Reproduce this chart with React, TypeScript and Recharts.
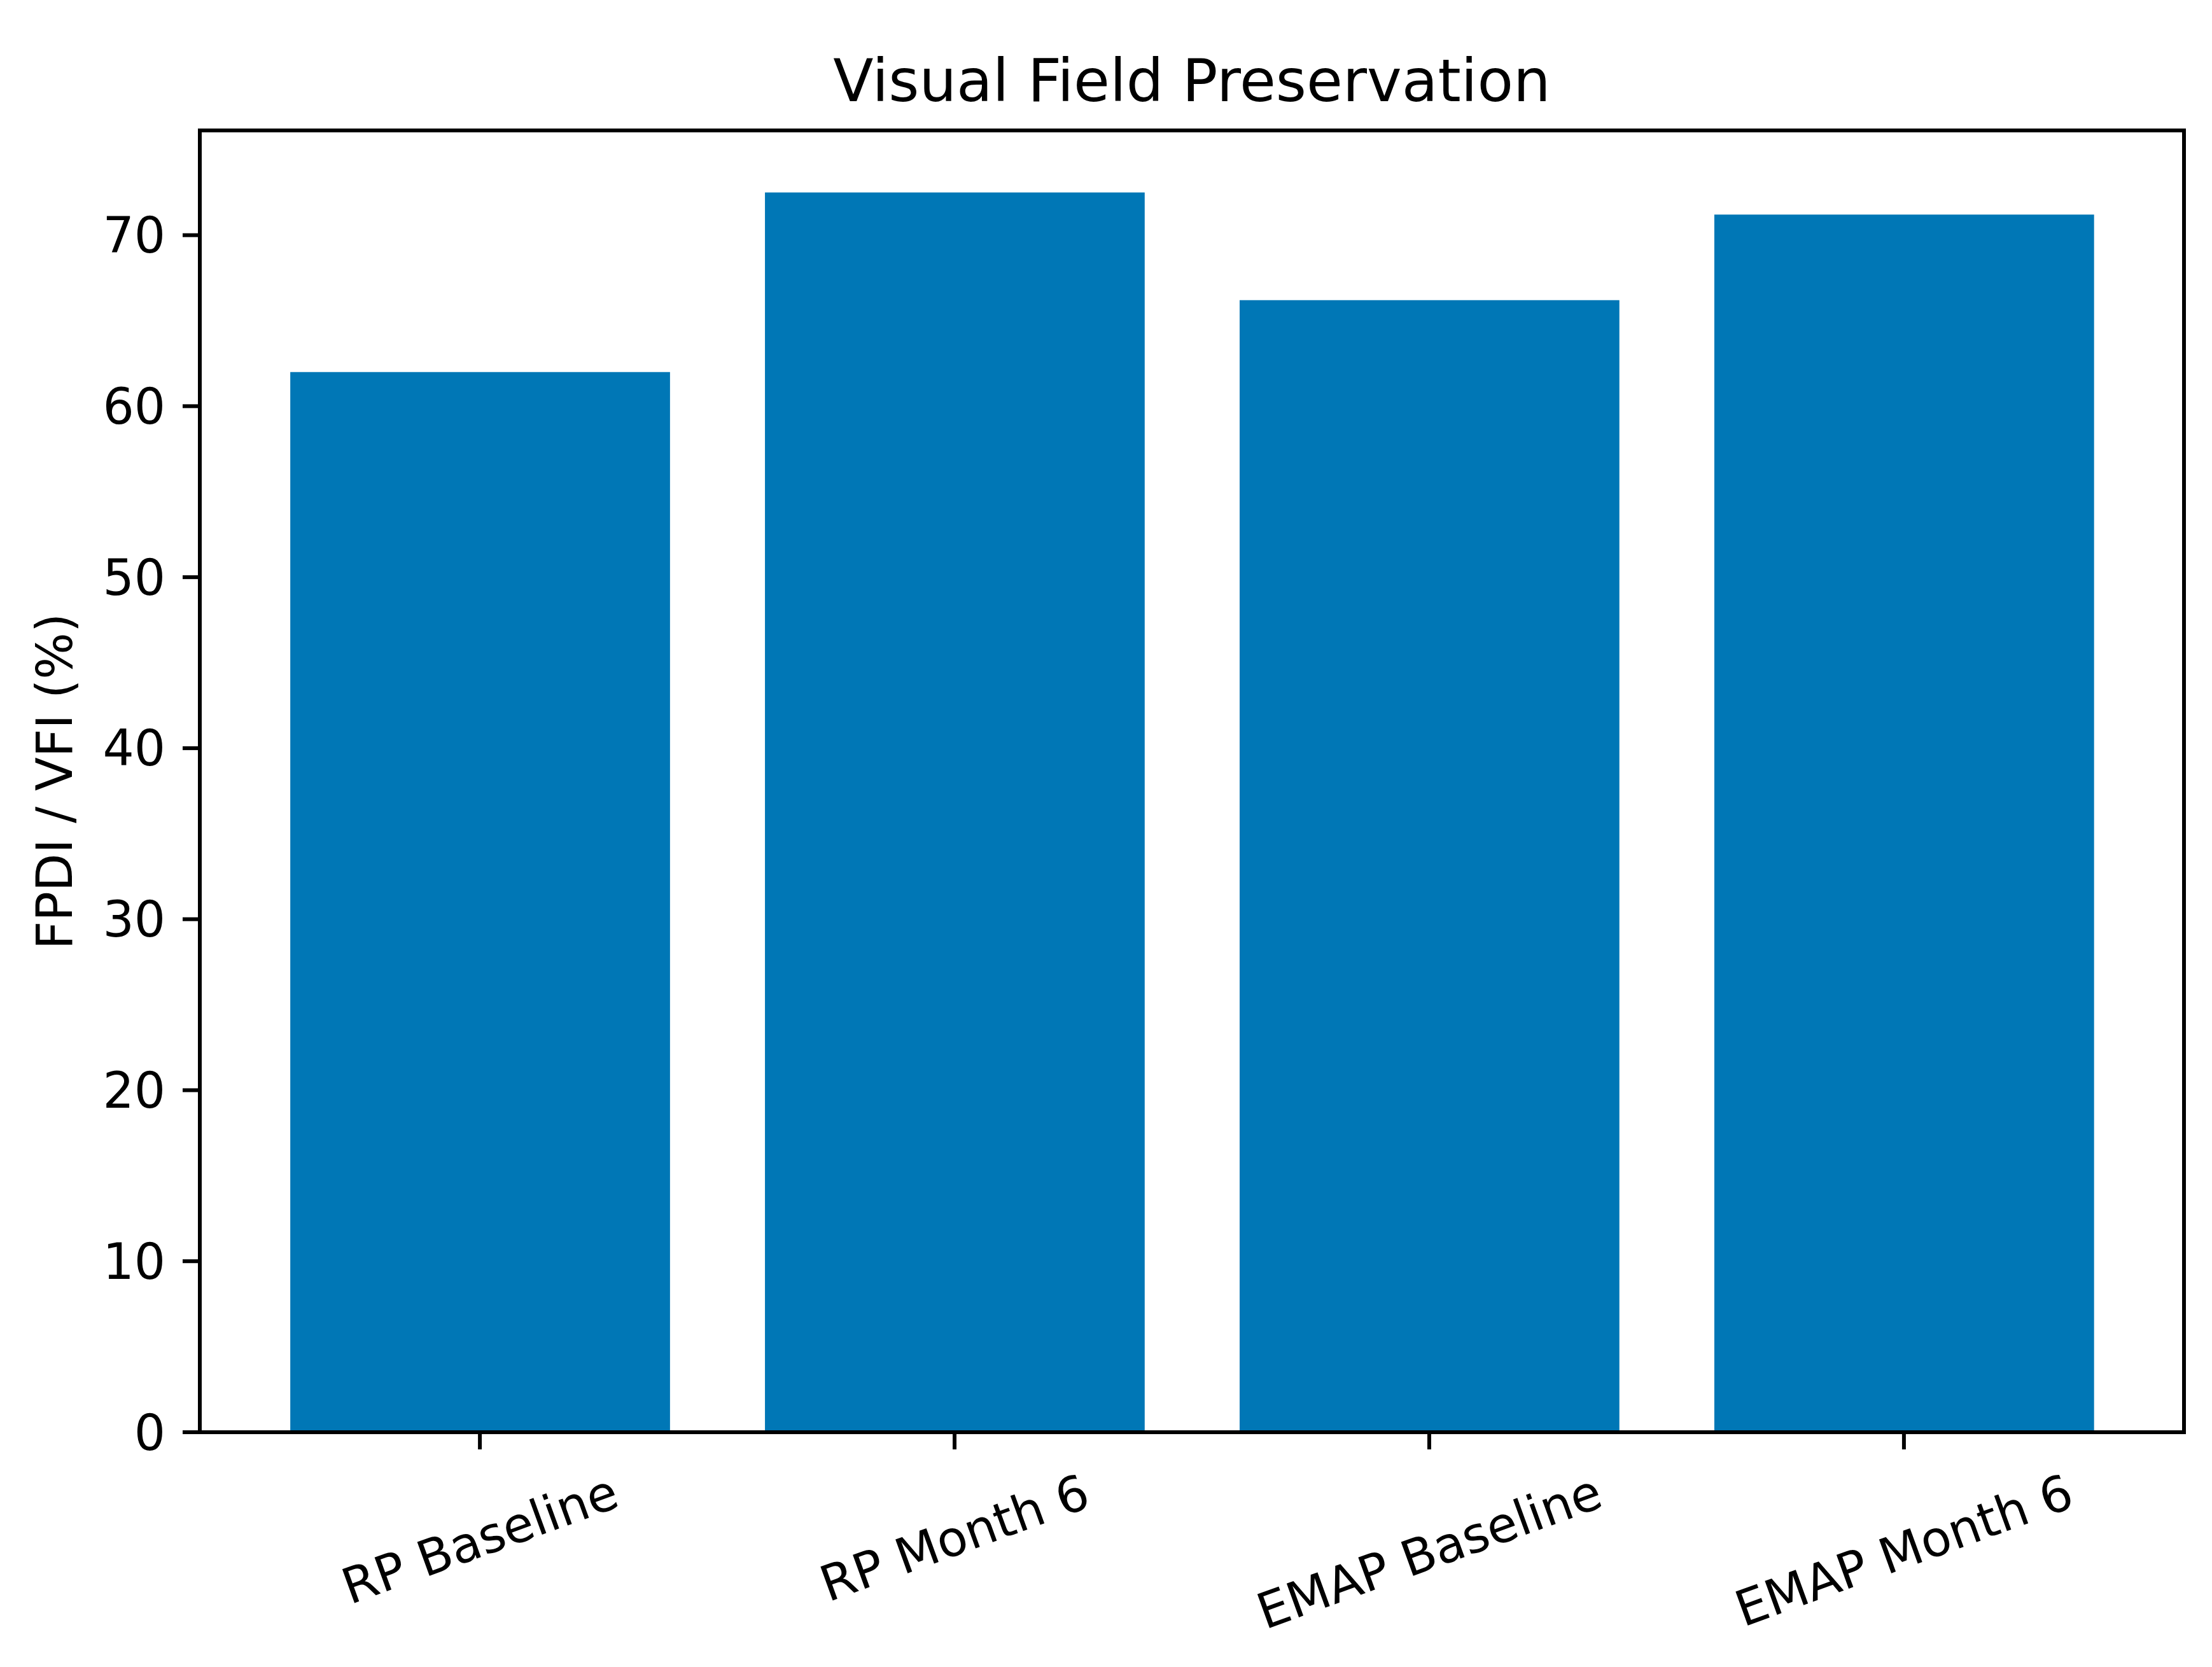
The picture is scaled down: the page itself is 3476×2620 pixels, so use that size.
import React from 'react';
import { BarChart, Bar, XAxis, YAxis } from 'recharts';

const categories = ['RP Baseline', 'RP Month 6', 'EMAP Baseline', 'EMAP Month 6'];
const values = [62.0, 72.5, 66.2, 71.2];
const yTicks = [0, 10, 20, 30, 40, 50, 60, 70];
const title = 'Visual Field Preservation';
const yLabel = 'FPDI / VFI (%)';

const data = categories.map((name, i) => ({ name, value: values[i] }));

const W = 3476;
const H = 2620;
const PLOT_LEFT = 314;
const PLOT_RIGHT = 3432;
const PLOT_TOP = 205;
const PLOT_BOTTOM = 2251;
const FONT = '"DejaVu Sans", sans-serif';
const TICK_FS = 77.5;
const TITLE_FS = 92.5;
const ANGLE = 20;
const BAR_COLOR = '#0077b6';
const LW = 6;

let ctx: CanvasRenderingContext2D | null = null;
function measure(text: string, size: number): number {
  if (!ctx) {
    const c = document.createElement('canvas');
    ctx = c.getContext('2d');
  }
  if (!ctx) return text.length * size * 0.6;
  ctx.font = `${size}px "DejaVu Sans"`;
  return ctx.measureText(text).width;
}

const RotTick = (props: any) => {
  const { x, y, payload } = props;
  const label = String(payload.value);
  const w = measure(label, TICK_FS);
  const h = TICK_FS * 1.0;
  const rad = (ANGLE * Math.PI) / 180;
  const bh = w * Math.sin(rad) + h * Math.cos(rad);
  const cy = y + bh / 2;
  return (
    <text
      x={x}
      y={cy}
      textAnchor="middle"
      dominantBaseline="central"
      transform={`rotate(-${ANGLE} ${x} ${cy})`}
      fontSize={TICK_FS}
      fontFamily={FONT}
      fill="#000"
    >
      {label}
    </text>
  );
};

const axisLine = { stroke: '#000', strokeWidth: LW, strokeLinecap: 'square' as const };
const tickLine = { stroke: '#000', strokeWidth: LW };

export default function App() {
  const xBand = (PLOT_RIGHT - PLOT_LEFT) / 4.18;
  const pad = 0.09 * xBand;
  const barSize = 0.8 * xBand;
  return (
    <div style={{ position: 'absolute', left: 0, top: 0, width: W, height: H, background: '#fff', fontFamily: FONT }}>
      <BarChart
        width={W}
        height={H}
        data={data}
        margin={{ top: PLOT_TOP, right: W - PLOT_RIGHT, left: 0, bottom: 0 }}
      >
        <XAxis
          dataKey="name"
          type="category"
          height={H - PLOT_BOTTOM}
          padding={{ left: pad, right: pad }}
          axisLine={axisLine}
          tickLine={tickLine}
          tickSize={27}
          tickMargin={27}
          tick={<RotTick />}
          interval={0}
        />
        <YAxis
          type="number"
          domain={[0, 76.125]}
          ticks={yTicks}
          width={PLOT_LEFT}
          axisLine={axisLine}
          tickLine={tickLine}
          tickSize={27}
          tickMargin={27}
          tick={{ fontSize: TICK_FS, fill: '#000', fontFamily: FONT }}
          interval={0}
        />
        <Bar dataKey="value" fill={BAR_COLOR} barSize={barSize} isAnimationActive={false} />
      </BarChart>
      <svg
        width={W}
        height={H}
        style={{ position: 'absolute', left: 0, top: 0, pointerEvents: 'none' }}
      >
        <line
          x1={PLOT_LEFT}
          y1={PLOT_TOP}
          x2={PLOT_RIGHT}
          y2={PLOT_TOP}
          stroke="#000"
          strokeWidth={LW}
          strokeLinecap="square"
        />
        <line
          x1={PLOT_RIGHT}
          y1={PLOT_TOP}
          x2={PLOT_RIGHT}
          y2={PLOT_BOTTOM}
          stroke="#000"
          strokeWidth={LW}
          strokeLinecap="square"
        />
        <text
          x={(PLOT_LEFT + PLOT_RIGHT) / 2}
          y={159}
          textAnchor="middle"
          fontSize={TITLE_FS}
          fontFamily={FONT}
          fill="#000"
        >
          {title}
        </text>
        <text
          x={113}
          y={(PLOT_TOP + PLOT_BOTTOM) / 2}
          textAnchor="middle"
          transform={`rotate(-90 113 ${(PLOT_TOP + PLOT_BOTTOM) / 2})`}
          fontSize={TICK_FS}
          fontFamily={FONT}
          fill="#000"
        >
          {yLabel}
        </text>
      </svg>
    </div>
  );
}
